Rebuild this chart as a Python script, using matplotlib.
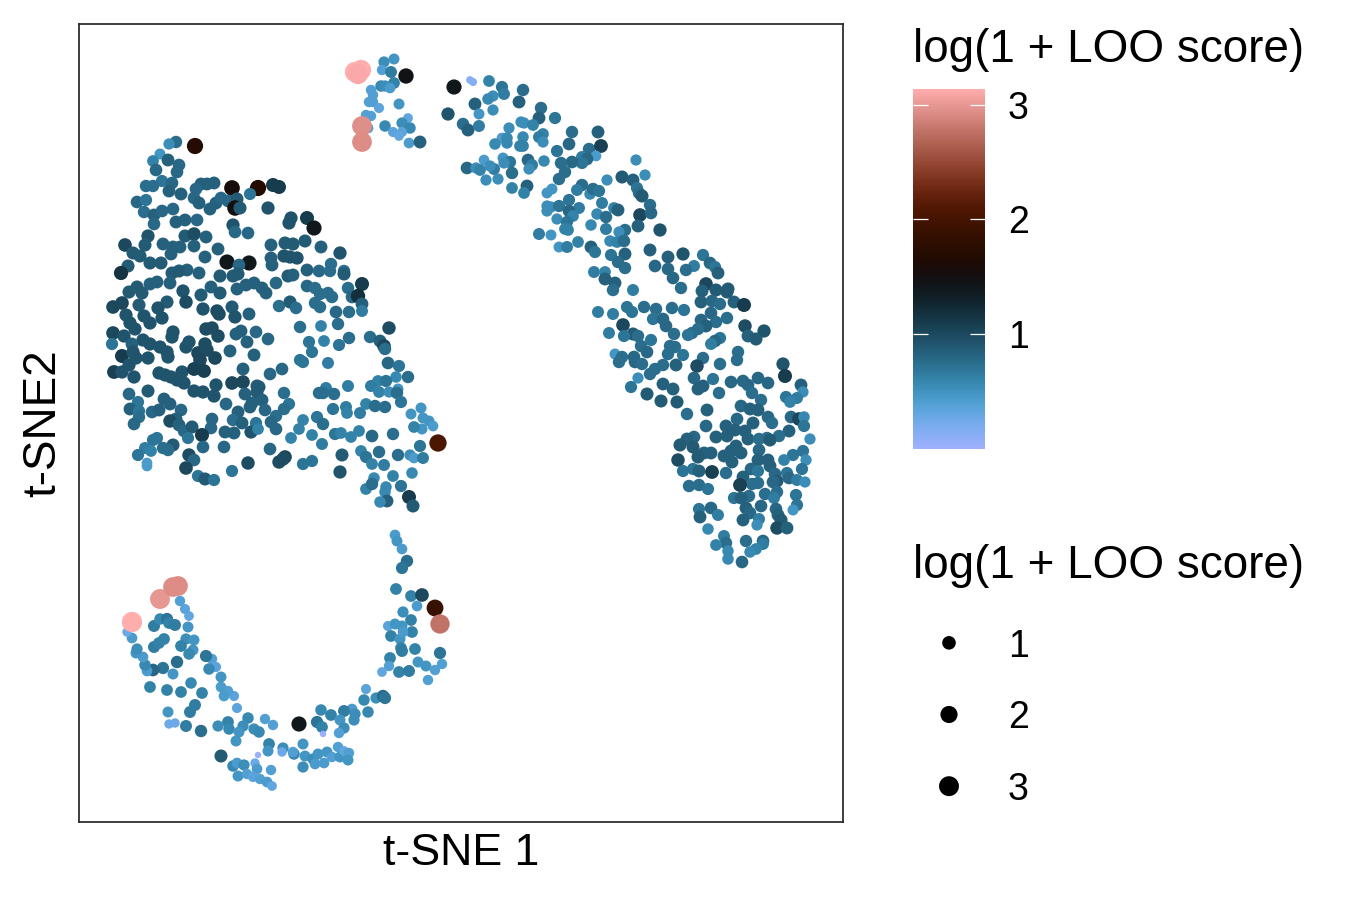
import numpy as np
import matplotlib
matplotlib.use('Agg')
import matplotlib.pyplot as plt

plt.rcParams['font.family'] = ['Liberation Sans', 'DejaVu Sans']

# t-SNE 1, t-SNE 2, log(1 + LOO score) (no ticks, so units are arbitrary)
left_cluster = np.array([
    (176,142,.85),(169,144,.6),(195,146,1.7),(160,154,.55),(153,161,.7),(168,160,.95),(179,165,.9),(156,170,.9),
    (177,172,.9),(162,181,.8),(172,183,.9),(146,186,.85),(153,186,.85),(169,191,.95),(181,194,.95),(201,184,.95),
    (214,183,.95),(207,184,.95),(196,189,.9),(232,188,1.55),(258,188,1.7),(273,185,1.25),(279,187,1.25),(250,194,.8),
    (137,202,.9),(146,200,.8),(194,198,.9),(199,203,.95),(216,203,.95),(221,198,.9),(228,201,.9),(237,199,1.0),
    (235,208,1.5),(240,208,1.0),(210,209,.95),(268,208,1.05),(144,212,.85),(154,215,.95),(162,211,.9),(173,209,.9),
    (154,224,.9),(176,222,.95),(185,220,.95),(197,220,.9),(233,225,1.05),(235,232,.9),(248,233,.9),(291,218,1.05),
    (289,223,1.05),(307,218,1.25),(314,228,1.4),(148,236,1.05),(185,236,1.0),(194,234,1.1),(206,237,.95),(125,245,1.15),
    (145,245,1.0),(163,244,.95),(173,247,.95),(180,247,.95),(194,246,.95),(171,254,.95),(218,249,.95),(271,245,.95),
    (285,243,1.0),(293,244,1.0),(305,241,1.0),(321,247,.95),(340,253,1.05),(133,253,1.0),(140,256,1.0),(150,263,1.0),
    (161,263,1.0),(205,257,.95),(227,262,1.4),(249,263,1.4),(239,265,.9),(271,258,.95),(272,265,.95),(284,256,1.05),
    (297,258,1.05),(290,257,1.05),(128,266,1.0),(121,273,1.3),(307,270,.95),(319,271,.9),(331,264,.85),(330,271,.85),
    (344,271,.85),(344,274,1.0),(362,284,1.25),(199,273,.95),(187,270,.95),(179,271,1.0),(172,273,1.0),(220,276,1.0),
    (233,276,1.0),(238,274,1.0),(288,276,1.0),(293,275,.95),(276,283,.9),(157,282,.95),(150,284,.95),(170,283,.95),
    (137,287,1.0),(129,292,1.0),(142,293,1.0),(183,291,1.05),(211,287,.95),(220,293,1.0),(201,295,1.0),(237,289,.95),
    (246,285,.95),(254,283,.95),(262,288,.95),(266,293,.95),(307,286,.9),(315,288,.85),(320,294,.85),(328,293,.85),
    (332,297,.85),(348,288,.85),(352,297,.9),(358,296,1.35),(362,304,.95),(362,311,.75),(113,307,1.15),(122,303,1.15),
    (139,305,1.0),(167,302,1.0),(158,308,1.05),(186,302,1.1),(203,309,1.05),(217,311,1.1),(219,314,1.1),(232,307,1.0),
    (235,317,1.05),(249,314,.95),(279,306,.85),(290,302,1.0),(296,308,.85),(315,303,.85),(320,307,.85),(336,312,.9),
    (349,312,.85),(126,315,1.05),(144,316,1.05),(162,318,1.05),(130,323,1.05),(150,323,1.05),(135,329,1.05),(300,327,.85),
    (321,326,.7),(338,324,.85),(389,328,1.1),(113,333,1.15),(124,336,1.05),(173,332,1.05),(172,337,1.05),(206,329,1.1),
    (212,328,1.1),(218,336,1.1),(236,334,.95),(241,331,.95),(256,332,.9),(268,339,.9),(247,342,.95),(143,340,1.05),
    (112,344,.8),(132,344,.95),(150,344,1.05),(160,347,1.05),(189,342,1.05),(186,347,1.05),(205,344,1.1),(309,342,.8),
    (324,341,.7),(349,338,.85),(339,345,.8),(370,337,.85),(380,341,.95),(384,346,1.15),(385,349,.85),(230,351,.95),
    (312,352,.8),(122,356,1.25),(133,352,1.05),(167,352,1.05),(168,357,1.05),(136,358,1.05),(148,358,1.05),(198,353,1.15),
    (207,350,1.1),(215,358,1.15),(200,360,1.15),(254,355,.95),(300,360,.8),(303,362,.8),(328,363,.75),(388,363,.9),
    (399,366,.8),(129,365,1.05),(114,372,1.2),(122,372,1.05),(134,377,1.05),(159,373,1.05),(165,375,1.05),(171,377,1.05),
    (182,372,1.05),(194,369,1.2),(204,371,1.2),(177,380,1.05),(184,383,1.05),(243,369,.95),(270,374,.9),(282,369,.9),
    (396,377,.65),(408,377,.85),(378,381,.7),(386,381,.8),(371,386,.75),(348,386,.75),(326,388,.75),(319,393,.85),
    (323,393,.85),(334,394,.85),(232,383,1.15),(243,382,1.15),(216,385,1.05),(194,391,1.05),(203,392,1.05),(214,396,1.05),
    (148,391,1.0),(129,394,.9),(257,386,1.0),(259,387,1.0),(257,392,1.0),(284,393,.85),(245,394,.95),(379,392,.7),
    (389,392,.6),(398,389,.55),(397,393,.85),(401,402,.8),(138,402,.8),(164,399,.95),(170,404,.95),(226,404,.9),
    (262,400,.95),(252,403,.95),(250,407,.95),(289,404,.8),(284,409,.85),(181,410,.9),(130,409,.95),(139,411,.8),
    (152,412,.9),(159,410,.95),(238,412,.95),(265,410,.9),(346,407,.75),(333,409,.8),(347,413,.7),(360,413,.75),
    (366,404,.7),(375,406,.85),(385,407,.85),(421,408,.55),(411,414,.55),(423,418,.55),(429,421,.55),(433,426,.5),
    (422,429,.55),(414,427,.7),(139,417,.85),(276,416,.85),(271,422,.9),(317,417,.8),(323,424,.85),(303,420,.7),
    (299,429,.7),(176,419,.95),(170,421,1.1),(212,419,.9),(233,420,.85),(242,423,.95),(134,424,.9),(179,425,.95),
    (256,423,.8),(184,431,.9),(192,427,1.0),(211,428,.9),(225,432,.95),(234,433,.95),(251,432,1.05),(276,429,.9),
    (258,429,.7),(335,434,.8),(341,433,.7),(351,437,.7),(359,431,.7),(372,436,.9),(393,434,.85),(312,435,.7),
    (291,438,.7),(202,435,1.25),(188,438,.8),(153,440,.8),(157,438,.8),(438,443,2.05),(173,445,1.0),(145,448,.75),
    (163,448,.85),(168,450,.85),(151,451,.7),(203,447,.9),(224,447,.9),(322,444,.75),(270,449,.9),(420,446,.8),
    (361,451,.7),(366,457,.8),(379,452,.85),(398,455,.85),(410,455,.6),(414,458,.5),(423,458,.75),(342,455,1.0),
    (138,455,.8),(189,455,1.1),(194,460,.9),(186,468,1.15),(147,463,.5),(147,466,.5),(248,463,1.1),(285,457,1.15),
    (283,459,1.1),(279,462,1.1),(303,464,.8),(312,461,.8),(372,464,.7),(384,465,.75),(232,471,.8),(340,472,1.05),
    (412,473,.65),(198,476,.8),(205,479,1.0),(214,480,.8),(393,476,.7),(374,478,.65),(366,489,.7),(372,484,.85),
    (386,487,.65),(385,492,.65),(401,486,.8),(409,497,1.25),(387,501,.95),(380,502,.65),(413,506,1.0),
])

bottom_cluster = np.array([
    (395,535,.5),(397,541,.55),(402,549,.5),(407,561,.85),(402,568,.8),(396,589,.7),(411,596,.7),(422,595,1.15),
    (417,606,.5),(435,608,1.9),(440,624,2.78),(403,612,.6),(411,620,.7),(388,626,.4),(395,624,.55),(402,626,.55),
    (412,632,.7),(391,636,.7),(400,639,.55),(403,632,.5),(401,648,.7),(402,651,.75),(415,649,.7),(440,653,.8),
    (390,658,.7),(389,666,.45),(382,672,.35),(399,672,.7),(409,671,.75),(418,662,.55),(426,666,.55),(435,670,.45),
    (442,664,.45),(428,680,.45),(366,689,.4),(364,700,.65),(376,698,.6),(383,696,.85),(385,698,.8),(352,709,.5),
    (355,714,.6),(368,712,.65),(344,711,.75),(321,710,.65),(331,715,.7),(340,720,.55),(354,720,.6),(317,722,.8),
    (322,727,.7),(344,728,.6),(339,733,.45),(299,724,1.4),(323,734,.03),(258,755,.03),(265,719,.45),(273,725,.45),
    (248,718,.65),(243,726,.6),(228,722,.7),(229,729,.65),(218,726,.6),(254,729,.6),(259,732,.65),(239,732,.55),
    (236,741,.55),(237,708,.4),(234,696,.4),(228,691,.45),(224,696,.5),(221,687,.5),(221,677,.55),(212,659,.45),
    (216,667,.4),(209,669,.65),(206,656,.8),(202,693,.7),(191,683,.65),(181,692,.7),(167,690,.7),(150,687,.7),
    (195,705,.75),(190,712,.75),(168,712,.55),(169,724,.3),(175,723,.3),(186,726,.75),(201,731,.85),(173,674,.55),
    (177,662,.85),(163,668,.8),(153,670,.9),(147,671,.5),(145,665,.65),(143,657,.5),(136,653,.55),(137,649,.6),
    (132,638,.5),(127,632,.3),(132,622,3.13),(154,626,.75),(160,619,.65),(167,619,.8),(169,623,.7),(175,625,.75),
    (188,627,.55),(189,616,.35),(185,609,.4),(180,601,.45),(160,599,3.0),(173,587,2.93),(178,586,2.93),(154,647,.75),
    (159,643,.7),(164,639,.7),(186,639,.6),(194,640,.55),(181,646,.7),(193,650,.55),(189,654,.65),(269,744,.7),
    (268,751,.55),(283,748,.6),(282,752,.3),(294,754,.65),(293,752,.45),(303,744,.55),(305,756,.55),(303,767,.6),
    (313,759,.6),(315,764,.5),(318,754,.55),(324,763,.5),(327,752,.55),(332,757,.45),(338,747,.45),(340,757,.55),
    (344,751,.35),(349,753,.45),(348,760,.55),(221,756,1.0),(233,766,.65),(237,763,.5),(244,765,.6),(238,776,.55),
    (247,774,.45),(255,763,.3),(257,769,.5),(253,777,.4),(260,779,.45),(271,770,.45),(267,782,.5),(272,786,.35),
])

top_cluster = np.array([
    (394,59,.55),(384,62,.6),(382,70,.45),(391,72,.75),(406,76,1.45),(361,70,3.13),(355,72,3.13),(358,74,3.1),
    (394,83,.7),(381,86,.65),(385,86,.6),(390,88,.5),(371,90,.45),(373,95,.45),(369,102,.45),(373,102,.45),
    (379,108,.4),(399,104,.55),(366,115,.45),(371,116,.45),(408,118,.35),(368,128,.5),(362,126,2.95),(362,142,2.93),
    (385,126,.65),(402,123,.6),(410,128,.65),(393,132,.4),(402,132,.4),(399,136,.35),(409,143,.5),(420,142,.95),
])

right_cluster = np.array([
    (454,87,1.4),(470,80,.12),(473,82,.15),(489,81,.7),(502,87,.8),(504,94,.75),(523,90,.85),(519,102,.95),
    (493,96,.6),(488,99,.65),(475,104,.95),(493,110,.6),(448,114,1.05),(479,114,.55),(541,108,.85),(539,118,.95),
    (555,118,.8),(463,124,.85),(468,130,.95),(479,126,.75),(521,122,.6),(524,123,.6),(533,125,.7),(509,128,.6),
    (572,132,.85),(598,132,.95),(502,138,.5),(507,138,.65),(495,144,.65),(507,143,.65),(523,137,.65),(523,146,.7),
    (520,146,.7),(543,134,.7),(539,137,.75),(543,142,.6),(569,144,.9),(557,151,.8),(589,149,.85),(601,146,1.2),
    (596,156,.5),(582,157,.75),(587,159,.9),(582,163,.8),(572,162,.9),(561,163,.85),(544,161,.65),(528,160,.9),
    (532,165,.75),(529,169,.6),(484,160,.5),(503,158,.55),(510,162,.8),(504,163,.6),(467,168,.9),(476,168,.6),
    (480,170,.7),(494,169,.75),(490,166,.6),(512,173,.85),(498,179,.6),(486,180,.6),(565,172,.85),(559,179,.85),
    (636,160,.6),(622,177,1.0),(633,180,.95),(645,175,.6),(607,180,.6),(512,188,.7),(527,186,.95),(524,193,.7),
    (547,193,.55),(552,189,.55),(582,185,.85),(577,190,.75),(590,194,.65),(593,189,.85),(599,191,.8),(637,188,.8),
    (639,193,.85),(642,196,1.0),(569,200,.8),(602,203,.75),(650,205,.85),(547,206,.6),(551,207,.6),(559,206,.8),
    (547,211,.6),(579,208,.75),(569,211,.9),(614,208,.7),(618,210,.95),(597,214,.65),(606,217,.85),(640,215,1.15),
    (651,213,.9),(573,216,.7),(557,219,.6),(567,222,.8),(591,225,.65),(638,226,.95),(625,230,.85),(660,230,1.05),
    (606,229,.75),(565,229,.7),(568,230,.7),(619,232,.6),(539,234,.75),(551,235,.55),(610,241,.65),(617,242,.7),
    (624,241,.85),(578,242,.7),(559,247,.55),(567,247,.75),(591,247,.95),(595,252,.8),(650,250,.95),(625,254,.95),
    (611,255,.8),(618,262,.85),(625,268,.85),(655,266,.9),(594,272,.75),(605,272,.7),(668,257,.95),(683,254,1.05),
    (703,255,.8),(710,263,.9),(715,267,.8),(718,273,.95),(694,266,.75),(686,270,.85),(668,269,.9),(673,278,.9),
    (605,279,.95),(615,283,.95),(613,290,.85),(633,290,.75),(681,288,.85),(706,284,1.15),(702,291,.95),(716,290,1.0),
    (728,289,1.0),(727,292,1.0),(701,302,.95),(712,301,.9),(720,304,.85),(734,302,.95),(744,305,1.25),(598,312,.75),
    (613,314,.75),(627,307,.8),(632,312,.8),(644,307,.85),(656,309,.85),(672,308,.85),(684,310,.8),(711,313,.9),
    (727,318,.85),(701,320,.9),(716,322,.85),(653,319,.8),(663,319,.9),(666,326,.9),(706,326,.95),(698,329,.85),
    (692,333,.85),(688,335,.8),(674,334,.85),(623,325,1.15),(633,334,1.0),(638,336,.85),(624,336,.8),(609,333,.75),
    (651,340,.8),(745,326,1.1),(764,331,1.05),(748,336,.95),(756,339,1.0),(720,338,.8),(715,341,.9),(711,344,.75),
    (641,346,.85),(647,352,.9),(670,346,.85),(675,347,.85),(668,354,.85),(683,355,.8),(738,352,.85),(737,360,.85),
    (703,358,.85),(615,354,.55),(622,357,.85),(634,357,.9),(635,362,.9),(619,362,.85),(642,364,.85),(663,365,.85),
    (676,365,.95),(697,366,1.1),(720,364,.85),(783,364,1.05),(785,376,1.25),(655,369,.85),(650,374,.85),(694,378,.9),
    (713,379,.8),(731,382,.9),(743,381,.9),(758,378,.9),(768,383,.9),(638,378,.6),(631,387,.8),(663,384,.95),
    (673,389,.95),(698,389,.95),(703,386,.95),(719,393,.85),(748,385,.9),(752,393,.85),(801,385,.95),(803,392,.6),
    (797,398,.75),(786,397,.8),(790,402,.7),(647,394,1.0),(661,401,1.0),(677,402,1.0),(761,400,.85),(741,406,.9),
    (750,409,.95),(758,410,.95),(687,414,.85),(707,410,.95),(768,417,.9),(772,423,.85),(791,417,.9),(799,419,1.15),
    (804,417,.65),(804,426,.8),(737,419,.9),(706,426,.9),(726,426,.95),(753,423,.95),(745,431,.95),(735,430,.95),
    (789,431,.95),(779,436,.85),(810,439,.6),(716,437,.95),(727,436,.95),(694,437,.9),(687,439,.95),(680,445,1.0),
    (748,439,.95),(759,439,.85),(767,438,.85),(770,440,1.0),(693,447,1.0),(736,446,.95),(759,450,.9),(704,453,.95),
    (711,453,.95),(698,457,1.0),(731,451,.95),(741,453,.95),(724,456,.95),(732,462,.95),(803,451,.8),(793,455,.8),
    (784,460,.7),(806,460,.6),(758,460,.95),(768,460,.95),(770,466,.95),(678,460,1.1),(802,469,.8),(683,471,.8),
    (693,469,.8),(699,471,.95),(712,472,1.2),(726,473,.85),(751,469,.9),(758,471,.8),(775,474,.9),(787,473,.8),
    (789,478,.9),(797,480,.75),(805,482,.6),(743,477,.95),(777,481,1.0),(758,483,.85),(752,484,.85),(773,482,.9),
    (740,485,1.2),(689,486,.85),(699,485,.85),(708,489,.8),(765,494,.85),(777,492,.85),(774,498,.75),(796,495,.8),
    (749,496,.85),(734,498,.8),(741,498,.95),(797,505,.8),(793,510,.55),(761,506,.9),(746,508,.95),(776,509,.9),
    (699,509,.8),(711,508,.9),(750,513,.9),(718,515,.75),(700,517,.95),(778,515,.95),(781,520,1.0),(743,520,.95),
    (759,519,.75),(757,525,.6),(777,528,1.1),(787,528,.95),(708,529,.65),(724,536,.75),(763,541,.9),(746,541,.85),
    (726,543,.85),(716,545,.7),(763,544,.75),(756,549,.7),(750,552,.65),(728,551,.65),(728,559,.65),(742,562,.9),
])

legend_scores = [1, 2, 3]
colorbar_ticks = [1, 2, 3]
score_min, score_max = 0.0, 3.136


def dot_area(score):
    # ggplot-like size scale, diameter in pixels at 150 dpi turned into points^2
    diam = 5.0 + 8.6*np.sqrt(score)
    return (diam*72/150)**2


def box(left, top, right, bottom):
    return [left/1350, 1 - bottom/900, (right - left)/1350, (bottom - top)/900]


fig = plt.figure(figsize=(9, 6), dpi=150)

ax = fig.add_axes(box(79, 24, 843, 822))
points = np.vstack([left_cluster, bottom_cluster, top_cluster, right_cluster])
# my first reading of the blues came out too dark against the colourbar
score = np.where(points[:, 2] < 1.4, points[:, 2]*0.88, points[:, 2])
sc = ax.scatter(points[:, 0], points[:, 1], s=dot_area(score), c=score, cmap='berlin',
                vmin=score_min, vmax=score_max, linewidths=0)
ax.set_xlim(79, 843)
ax.set_ylim(822, 24)
ax.set_xticks([])
ax.set_yticks([])
for sp in ax.spines.values():
    sp.set_color('#2b2b2b')
    sp.set_linewidth(0.85)
ax.set_xlabel('t-SNE 1', fontsize=21.5, labelpad=5.5)
ax.set_ylabel('t-SNE2', fontsize=22, labelpad=6.5)

# colourbar with white ggplot ticks on both sides
cax = fig.add_axes(box(913, 89, 985, 449))
cb = fig.colorbar(sc, cax=cax)
cb.outline.set_visible(False)
cb.set_ticks(colorbar_ticks)
cax.tick_params(axis='y', left=True, right=True, direction='in', length=7, width=0.6, color='white',
                labelsize=18, pad=11)
fig.text(913/1350, 1 - 49.5/900, 'log(1 + LOO score)', fontsize=22, va='center')

# size legend
fig.text(913/1350, 1 - 566.5/900, 'log(1 + LOO score)', fontsize=22, va='center')
lax = fig.add_axes(box(913, 607, 985, 822))
lax.scatter([0]*len(legend_scores), legend_scores, s=dot_area(np.array(legend_scores, dtype=float)), c='black',
            linewidths=0)
lax.set_xlim(-1, 1)
lax.set_ylim(3.5, 0.5)
lax.axis('off')
for val in legend_scores:
    lax.annotate(str(val), (1, val), xytext=(11, 0), textcoords='offset points', fontsize=18, va='center_baseline',
                 ha='left', annotation_clip=False)

plt.savefig('out.png', dpi=150)
